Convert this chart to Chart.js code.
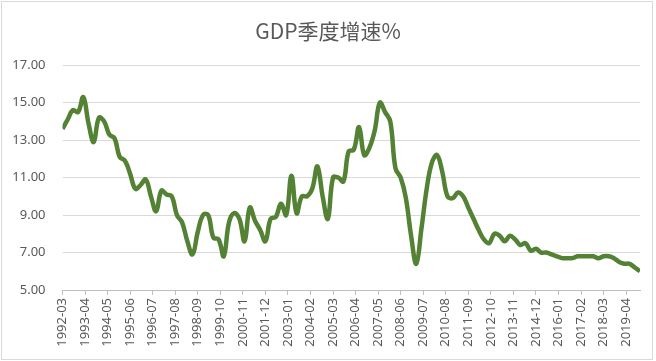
<!DOCTYPE html>
<html>
<head>
<meta charset="utf-8">
<script src="https://cdn.jsdelivr.net/npm/chart.js@4.4.0/dist/chart.umd.min.js"></script>
<style>
  html, body { margin: 0; padding: 0; background: #fff; }
  #wrap { width: 656px; height: 361px; }
</style>
</head>
<body>
<div id="wrap"><canvas id="gdpChart" width="656" height="361"></canvas></div>
<script>
// 季度: 1992-03 ... 2019-12
const years = [];
for (let y = 1992; y <= 2019; y++) years.push(y);
const quarterMonths = ['03', '06', '09', '12'];

// GDP 当季同比 %
const gdpGrowth = [
  13.6, 14.1, 14.6, 14.5,   // 1992
  15.3, 13.9, 12.9, 14.2,   // 1993
  14.0, 13.3, 13.1, 12.1,   // 1994
  11.9, 11.2, 10.4, 10.6,   // 1995
  10.9, 10.0, 9.2, 10.3,    // 1996
  10.1, 10.0, 9.0, 8.6,     // 1997
  7.6, 6.9, 8.1, 9.0,       // 1998
  9.0, 7.8, 7.7, 6.8,       // 1999
  8.6, 9.1, 8.8, 7.6,       // 2000
  9.4, 8.7, 8.2, 7.6,       // 2001
  8.8, 8.9, 9.6, 9.0,       // 2002
  11.1, 9.1, 10.0, 10.0,    // 2003
  10.4, 11.6, 10.0, 8.8,    // 2004
  11.0, 11.0, 10.8, 12.4,   // 2005
  12.5, 13.7, 12.2, 12.6,   // 2006
  13.5, 15.0, 14.5, 14.0,   // 2007
  11.5, 11.0, 9.9, 7.9,     // 2008
  6.4, 8.3, 10.4, 11.8,     // 2009
  12.2, 11.3, 10.0, 9.9,    // 2010
  10.2, 10.0, 9.4, 8.8,     // 2011
  8.2, 7.7, 7.5, 8.0,       // 2012
  7.9, 7.6, 7.9, 7.7,       // 2013
  7.4, 7.5, 7.1, 7.2,       // 2014
  7.0, 7.0, 6.9, 6.8,       // 2015
  6.7, 6.7, 6.7, 6.8,       // 2016
  6.8, 6.8, 6.8, 6.7,       // 2017
  6.8, 6.8, 6.7, 6.5,       // 2018
  6.4, 6.4, 6.2, 6.0        // 2019
];

// 横轴刻度标签 (每13个月)
const tickLabels = ['1992-03', '1993-04', '1994-05', '1995-06', '1996-07', '1997-08', '1998-09',
  '1999-10', '2000-11', '2001-12', '2003-01', '2004-02', '2005-03', '2006-04', '2007-05',
  '2008-06', '2009-07', '2010-08', '2011-09', '2012-10', '2013-11', '2014-12', '2016-01',
  '2017-02', '2018-03', '2019-04'];

const yTicks = [5, 7, 9, 11, 13, 15, 17];

const quarters = [];
years.forEach(y => quarterMonths.forEach(m => quarters.push(y + '-' + m)));

// 'YYYY-MM' -> 从1992-03起的月数
function monthIndex(label) {
  const [y, m] = label.split('-').map(Number);
  return (y - 1992) * 12 + (m - 3);
}
function monthLabel(idx) {
  const total = 1992 * 12 + 2 + idx;
  const y = Math.floor(total / 12);
  const m = total % 12 + 1;
  return y + '-' + String(m).padStart(2, '0');
}

const points = quarters.map((q, i) => ({ x: monthIndex(q), y: gdpGrowth[i] }));

const frame = {
  id: 'frame',
  beforeDraw(chart) {
    const c = chart.ctx;
    c.save();
    c.fillStyle = '#ffffff';
    c.fillRect(0, 0, chart.width, chart.height);
    c.restore();
  },
  afterDraw(chart) {
    const c = chart.ctx;
    c.save();
    c.strokeStyle = '#d9d9d9';
    c.lineWidth = 1;
    c.strokeRect(1.5, 1.5, chart.width - 5, chart.height - 3);
    c.restore();
  }
};

const ctx = document.getElementById('gdpChart').getContext('2d');
new Chart(ctx, {
  type: 'line',
  data: {
    datasets: [{
      label: 'GDP季度增速%',
      data: points,
      borderColor: '#548235',
      borderWidth: 4.5,
      pointRadius: 0,
      tension: 0.4,
      fill: false
    }]
  },
  options: {
    responsive: false,
    animation: false,
    layout: { padding: 0 },
    plugins: {
      legend: { display: false },
      tooltip: { enabled: false },
      title: {
        display: true,
        text: 'GDP季度增速%',
        color: '#595959',
        font: { family: '"Noto Sans CJK SC", "Noto Sans"', size: 21, weight: 'normal' },
        padding: { top: 18, bottom: 22 }
      }
    },
    scales: {
      x: {
        type: 'linear',
        min: 0,
        max: monthIndex(quarters[quarters.length - 1]),
        afterFit(scale) {
          scale.height = 71;
          scale.paddingLeft = 0;
          scale.paddingRight = 16;
        },
        afterBuildTicks(scale) {
          scale.ticks = tickLabels.map(l => ({ value: monthIndex(l) }));
        },
        grid: {
          drawOnChartArea: false,
          drawTicks: true,
          tickLength: 5,
          color: '#bfbfbf'
        },
        border: { display: true, color: '#bfbfbf' },
        ticks: {
          autoSkip: false,
          minRotation: 90,
          maxRotation: 90,
          padding: 3,
          color: '#595959',
          font: { family: '"Noto Sans", "Noto Sans CJK SC"', size: 13 },
          callback: v => monthLabel(v)
        }
      },
      y: {
        min: 5,
        max: 17,
        afterFit(scale) { scale.width = 62.5; },
        afterBuildTicks(scale) {
          scale.ticks = yTicks.map(v => ({ value: v }));
        },
        grid: { color: '#d9d9d9', drawTicks: false },
        border: { display: false },
        ticks: {
          padding: 17,
          color: '#595959',
          font: { family: '"Noto Sans", "Noto Sans CJK SC"', size: 13 },
          callback: v => v.toFixed(2)
        }
      }
    }
  },
  plugins: [frame]
});
</script>
</body>
</html>
